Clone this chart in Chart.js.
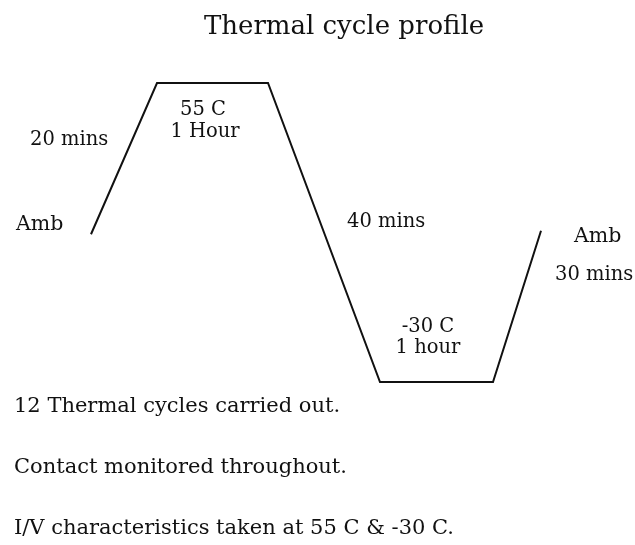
<!DOCTYPE html>
<html>
<head>
<meta charset="utf-8">
<title>Thermal cycle profile</title>
<script src="https://cdn.jsdelivr.net/npm/chart.js@4.4.1/dist/chart.umd.min.js"></script>
<style>
  html, body { margin: 0; padding: 0; background: #fff; }
  #wrap { width: 635px; height: 545px; }
</style>
</head>
<body>
<div id="wrap"><canvas id="myChart" width="635" height="545"></canvas></div>
<script>
// profile steps (schematic position along the drawing) and temperature in C
const stepPos = [0, 66, 177, 289, 402, 450];
const tempC = [12, 55, 55, -30, -30, 13];

// text placed on the drawing
const chartTitle = 'Thermal cycle profile';
const notes = [
  '12 Thermal cycles carried out.',
  'Contact monitored throughout.',
  'I/V characteristics taken at 55 C & -30 C.'
];

// Start Labels plugin
const serif = '"DejaVu Serif", "Liberation Serif", serif';
const textPlugin = {
  id: 'textPlugin',
  afterDraw(chart) {
    const c = chart.ctx;
    const put = (txt, x, y, size, align) => {
      c.font = size + 'px ' + serif;
      c.textAlign = align || 'left';
      c.textBaseline = 'alphabetic';
      c.fillStyle = '#111';
      c.fillText(txt, x, y);
    };
    c.save();
    put(chartTitle, 344, 34, 26, 'center');

    put('55 C', 203, 115, 19.5, 'center');
    put('1 Hour', 205, 137, 19.5, 'center');
    put('20 mins', 30, 145, 19.5);
    put('Amb', 16, 230, 20.5);
    put('40 mins', 347, 227, 19.5);
    put('Amb', 574, 242, 20.5);
    put('30 mins', 555, 280, 19.5);
    put('-30 C', 428, 332, 19.5, 'center');
    put('1 hour', 428, 353, 19.5, 'center');

    notes.forEach((n, i) => put(n, 14, 412 + i * 61, 21));
    c.restore();
  }
};
// End Labels plugin

const ctx = document.getElementById('myChart');
new Chart(ctx, {
  type: 'line',
  data: {
    labels: stepPos,
    datasets: [{
      data: stepPos.map((x, i) => ({x: x, y: tempC[i]})),
      borderColor: '#111',
      borderWidth: 2,
      pointRadius: 0,
      tension: 0,
      fill: false,
      clip: false
    }]
  },
  options: {
    responsive: false,
    animation: false,
    layout: { padding: { left: 91, right: 94, top: 83, bottom: 163 } },
    plugins: {
      legend: { display: false },
      tooltip: { enabled: false },
      title: { display: false }
    },
    scales: {
      x: { type: 'linear', min: 0, max: 450, display: false },
      y: { min: -30, max: 55, display: false }
    }
  },
  plugins: [textPlugin]
});
</script>
</body>
</html>
